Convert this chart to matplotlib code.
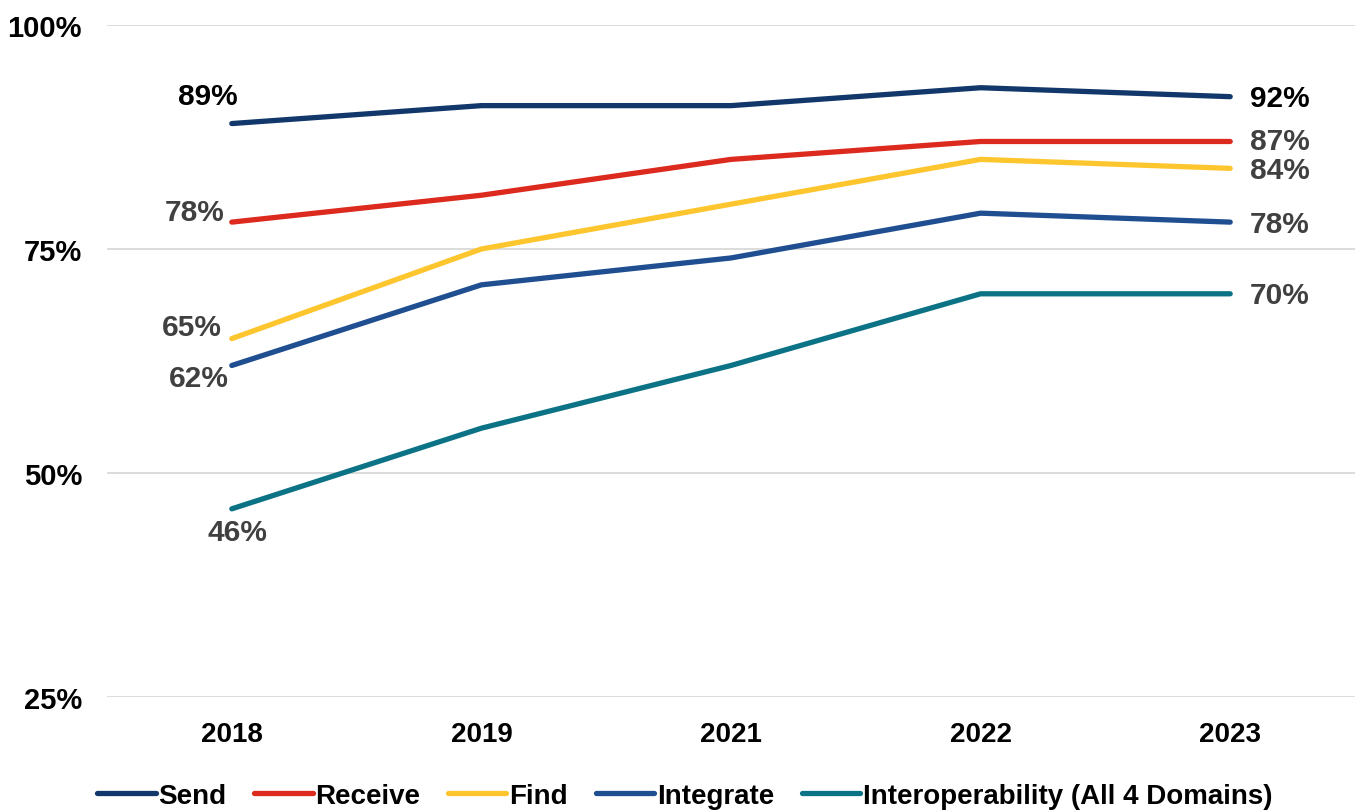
import matplotlib
matplotlib.use("Agg")
import matplotlib.pyplot as plt

years = ["2018", "2019", "2021", "2022", "2023"]
send = [89, 91, 91, 93, 92]
receive = [78, 81, 85, 87, 87]
find = [65, 75, 80, 85, 84]
integrate = [62, 71, 74, 79, 78]
interop = [46, 55, 62, 70, 70]

names = ["Send", "Receive", "Find", "Integrate", "Interoperability (All 4 Domains)"]
colors = ["#12376A", "#DC2A1F", "#FDC52E", "#1F4E91", "#0B7385"]
series = [send, receive, find, integrate, interop]

yticks = [25, 50, 75, 100]
ytick_labels = ["25%", "50%", "75%", "100%"]

plt.rcParams['font.family'] = ['Liberation Sans', 'DejaVu Sans']

fig = plt.figure(figsize=(13.56, 8.12), dpi=100)
ax = fig.add_axes([107/1356, 114/812, 1248/1356, 672/812])

x = list(range(len(years)))
for s, n, c in zip(series, names, colors):
    ax.plot(x, s, color=c, lw=3.8, label=n, solid_capstyle='round', zorder=3)

ax.set_xlim(-0.5, len(years) - 0.5)
ax.set_ylim(25, 100)
ax.set_yticks(yticks)
ax.set_yticklabels(ytick_labels, fontsize=21, fontweight='bold')
ax.set_xticks(x)
ax.set_xticklabels(years, fontsize=20, fontweight='bold')
ax.tick_params(axis='both', length=0)
ax.tick_params(axis='x', pad=17)
ax.tick_params(axis='y', pad=18)
ax.grid(axis='y', color='#D9D9D9', lw=1.3, zorder=0)
for sp in ax.spines.values():
    sp.set_visible(False)

px = 0.72
grey = "#404040"
fs = 21.5
# left labels: (series index, dx px, dy px, ha, color)
left_specs = [
    (0, -24, 28, 'center', 'black'),
    (1, -7, 10, 'right', grey),
    (2, -10, 12, 'right', grey),
    (3, -3, -13, 'right', grey),
    (4, 6, -23, 'center', grey),
]
for i, dx, dy, ha, col in left_specs:
    v = series[i][0]
    ax.annotate(f"{v}%", (0, v), xytext=(dx*px, dy*px), textcoords='offset points',
                ha=ha, va='center', fontsize=fs, fontweight='bold', color=col)

right_specs = [
    (0, -1, 'black'),
    (1, 0, grey),
    (2, -2, grey),
    (3, -2, grey),
    (4, -1, grey),
]
last = len(years) - 1
for i, dy, col in right_specs:
    v = series[i][last]
    ax.annotate(f"{v}%", (last, v), xytext=(20*px, dy*px), textcoords='offset points',
                ha='left', va='center', fontsize=fs, fontweight='bold', color=col)

leg = fig.legend(loc='lower center', bbox_to_anchor=(0.505, -0.028), ncol=5, frameon=False,
                 prop={'weight': 'bold', 'size': 20},
                 handlelength=2.1, handletextpad=0.1, columnspacing=1.0)
for h in leg.legend_handles:
    h.set_linewidth(3.8)

fig.savefig("out.png", dpi=100)
